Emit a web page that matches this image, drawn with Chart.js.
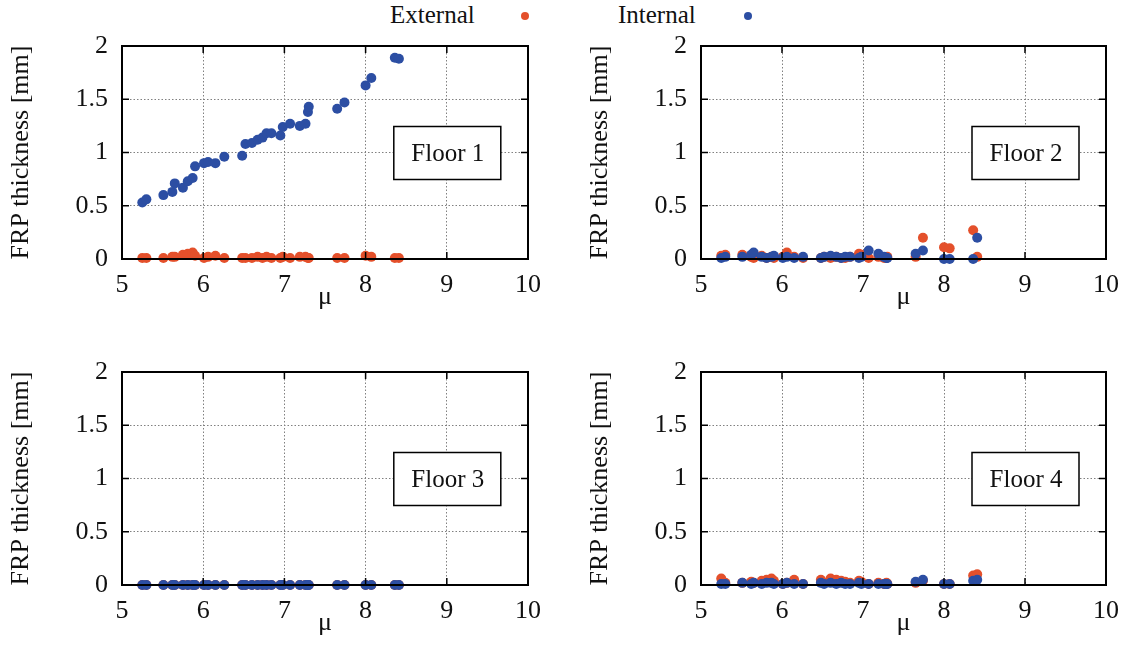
<!DOCTYPE html>
<html>
<head>
<meta charset="utf-8">
<script src="https://cdn.jsdelivr.net/npm/chart.js@4.4.0/dist/chart.umd.min.js"></script>
<style>
  body { margin: 0; background: #fff; width: 1132px; height: 664px; overflow: hidden; position: relative; font-family: 'Liberation Serif', serif; }
  .panel { position: absolute; width: 545px; height: 285px; }
  .leg { position: absolute; top: 0px; font-size: 25px; line-height: 30px; color: #111; }
  .dot { position: absolute; top: 12px; width: 8px; height: 8px; border-radius: 50%; }
</style>
</head>
<body>
<div class="panel" style="left:0px;top:36px"><canvas id="c1"></canvas></div>
<div class="panel" style="left:579px;top:36px"><canvas id="c2"></canvas></div>
<div class="panel" style="left:0px;top:362px"><canvas id="c3"></canvas></div>
<div class="panel" style="left:579px;top:362px"><canvas id="c4"></canvas></div>
<script>
// ductility values (shared by every floor)
var mu = [5.25, 5.30, 5.51, 5.62, 5.65, 5.75, 5.81, 5.87, 5.90, 6.01, 6.06, 6.15, 6.26, 6.48, 6.52, 6.60, 6.67,
          6.73, 6.78, 6.84, 6.95, 6.98, 7.07, 7.19, 7.26, 7.29, 7.30, 7.65, 7.74, 8.00, 8.07, 8.36, 8.41];

var floorNames = ['Floor 1', 'Floor 2', 'Floor 3', 'Floor 4'];
var seriesNames = ['External', 'Internal'];
var seriesColors = ['#e4502b', '#2c4ea3'];

// FRP thickness [mm], external columns
var ext1 = [0.01, 0.01, 0.01, 0.02, 0.02, 0.04, 0.05, 0.06, 0.03, 0.01, 0.02, 0.03, 0.01, 0.01, 0.01, 0.01, 0.02,
            0.01, 0.02, 0.01, 0.01, 0.02, 0.01, 0.02, 0.02, 0.01, 0.01, 0.01, 0.01, 0.03, 0.02, 0.01, 0.01];
var ext2 = [0.03, 0.04, 0.04, 0.02, 0.01, 0.03, 0.01, 0.02, 0.01, 0.02, 0.06, 0.02, 0.01, 0.01, 0.02, 0.01, 0.02,
            0.01, 0.01, 0.02, 0.05, 0.04, 0.01, 0.02, 0.01, 0.01, 0.02, 0.02, 0.20, 0.11, 0.10, 0.27, 0.02];
var ext3 = [0, 0, 0, 0, 0, 0, 0, 0, 0, 0, 0, 0, 0, 0, 0, 0, 0, 0, 0, 0, 0, 0, 0, 0, 0, 0, 0, 0, 0, 0, 0, 0, 0];
var ext4 = [0.06, 0.02, 0.02, 0.03, 0.02, 0.04, 0.05, 0.06, 0.04, 0.01, 0.02, 0.05, 0.01, 0.05, 0.02, 0.06, 0.05,
            0.04, 0.03, 0.02, 0.04, 0.03, 0.01, 0.02, 0.01, 0.02, 0.01, 0.02, 0.04, 0.01, 0.01, 0.09, 0.10];

// FRP thickness [mm], internal columns
var int1 = [0.53, 0.56, 0.60, 0.63, 0.71, 0.67, 0.73, 0.76, 0.87, 0.90, 0.91, 0.90, 0.96, 0.97, 1.08, 1.09, 1.12,
            1.14, 1.18, 1.18, 1.16, 1.24, 1.27, 1.25, 1.27, 1.38, 1.43, 1.41, 1.47, 1.63, 1.70, 1.89, 1.88];
var int2 = [0.01, 0.02, 0.02, 0.04, 0.06, 0.02, 0.01, 0.02, 0.03, 0.01, 0.02, 0.01, 0.02, 0.01, 0.02, 0.03, 0.02,
            0.01, 0.02, 0.02, 0.01, 0.02, 0.08, 0.05, 0.02, 0.01, 0.01, 0.05, 0.08, 0.00, 0.00, 0.00, 0.20];
var int3 = [0, 0, 0, 0, 0, 0, 0, 0, 0, 0, 0, 0, 0, 0, 0, 0, 0, 0, 0, 0, 0, 0, 0, 0, 0, 0, 0, 0, 0, 0, 0, 0, 0];
var int4 = [0.01, 0.01, 0.02, 0.01, 0.02, 0.01, 0.02, 0.02, 0.01, 0.01, 0.02, 0.01, 0.01, 0.02, 0.01, 0.02, 0.01,
            0.02, 0.01, 0.01, 0.02, 0.01, 0.01, 0.01, 0.01, 0.01, 0.01, 0.03, 0.05, 0.01, 0.01, 0.04, 0.05];

var xTicks = [5, 6, 7, 8, 9, 10];
var yTicks = [0, 0.5, 1, 1.5, 2];

var externalData = [ext1, ext2, ext3, ext4];
var internalData = [int1, int2, int3, int4];

var serif = "'Liberation Serif', 'Times New Roman', serif";
Chart.defaults.font.family = serif;
Chart.defaults.font.size = 26;
Chart.defaults.color = '#111';

// legend (text first, then the dot, like the original)
var legPos = [[390, 525], [618, 748]];
seriesNames.forEach(function(name, i) {
  var t = document.createElement('div');
  t.className = 'leg';
  t.style.left = legPos[i][0] + 'px';
  t.textContent = name;
  document.body.appendChild(t);
  var d = document.createElement('div');
  d.className = 'dot';
  d.style.left = (legPos[i][1] - 4) + 'px';
  d.style.background = seriesColors[i];
  document.body.appendChild(d);
});

function toPoints(ys) {
  return mu.map(function(m, i) { return {x: m, y: ys[i]}; });
}

// box around the plot, inner tick marks and the "Floor n" label
var framePlugin = {
  id: 'frame',
  afterDatasetsDraw: function(chart, args, opts) {
    var ctx = chart.ctx, a = chart.chartArea;
    var xs = chart.scales.x, ys = chart.scales.y;
    ctx.save();
    ctx.strokeStyle = '#000';
    ctx.lineWidth = 1.5;
    ctx.beginPath();
    xTicks.forEach(function(v) {
      var px = xs.getPixelForValue(v);
      ctx.moveTo(px, a.bottom); ctx.lineTo(px, a.bottom - 7);
      ctx.moveTo(px, a.top); ctx.lineTo(px, a.top + 7);
    });
    yTicks.forEach(function(v) {
      var py = ys.getPixelForValue(v);
      ctx.moveTo(a.left, py); ctx.lineTo(a.left + 7, py);
      ctx.moveTo(a.right, py); ctx.lineTo(a.right - 7, py);
    });
    ctx.stroke();
    ctx.lineWidth = 2;
    ctx.strokeRect(a.left, a.top, a.right - a.left, a.bottom - a.top);

    var cx = xs.getPixelForValue(9), cy = ys.getPixelForValue(1);
    ctx.fillStyle = '#fff';
    ctx.fillRect(cx - 53, cy - 26, 107, 53);
    ctx.lineWidth = 1.5;
    ctx.strokeRect(cx - 53, cy - 26, 107, 53);
    ctx.fillStyle = '#111';
    ctx.font = '25px ' + serif;
    ctx.textAlign = 'center';
    ctx.textBaseline = 'middle';
    ctx.fillText(opts.label, cx + 1, cy + 2);
    ctx.restore();
  }
};

function makeChart(id, k, padRight) {
  new Chart(document.getElementById(id), {
    type: 'scatter',
    data: {
      datasets: [{
        label: seriesNames[0],
        data: toPoints(externalData[k]),
        backgroundColor: seriesColors[0],
        borderWidth: 0,
        pointRadius: 5,
        clip: false,
        order: 1
      }, {
        label: seriesNames[1],
        data: toPoints(internalData[k]),
        backgroundColor: seriesColors[1],
        borderWidth: 0,
        pointRadius: 5,
        clip: false,
        order: 0
      }]
    },
    options: {
      responsive: true,
      maintainAspectRatio: false,
      animation: false,
      layout: { padding: { top: 10, right: padRight, left: 0, bottom: 0 } },
      plugins: {
        legend: { display: false },
        tooltip: { enabled: false },
        frame: { label: floorNames[k] }
      },
      scales: {
        x: {
          type: 'linear', min: 5, max: 10,
          ticks: { stepSize: 1, padding: 11, maxRotation: 0, font: { family: serif, size: 26 } },
          grid: { color: '#808080', lineWidth: 1, drawTicks: false },
          border: { display: true, color: '#000', width: 2, dash: [1.5, 2] },
          title: { display: true, text: 'μ', font: { family: serif, size: 26 }, padding: { top: 0, bottom: 8 } },
          afterFit: function(s) { s.height = 62; s.paddingLeft = 0; s.paddingRight = 0; }
        },
        y: {
          type: 'linear', min: 0, max: 2,
          ticks: {
            stepSize: 0.5, padding: 14, font: { family: serif, size: 26 },
            callback: function(v) { return String(v); }
          },
          grid: { color: '#808080', lineWidth: 1, drawTicks: false },
          border: { display: true, color: '#000', width: 2, dash: [1.5, 2] },
          title: { display: true, text: 'FRP thickness [mm]', font: { family: serif, size: 26 }, padding: { top: 6, bottom: 0 } },
          afterFit: function(s) { s.width = 122; s.paddingTop = 0; s.paddingBottom = 0; }
        }
      }
    },
    plugins: [framePlugin]
  });
}

makeChart('c1', 0, 17);
makeChart('c2', 1, 18);
makeChart('c3', 2, 17);
makeChart('c4', 3, 18);
</script>
</body>
</html>
